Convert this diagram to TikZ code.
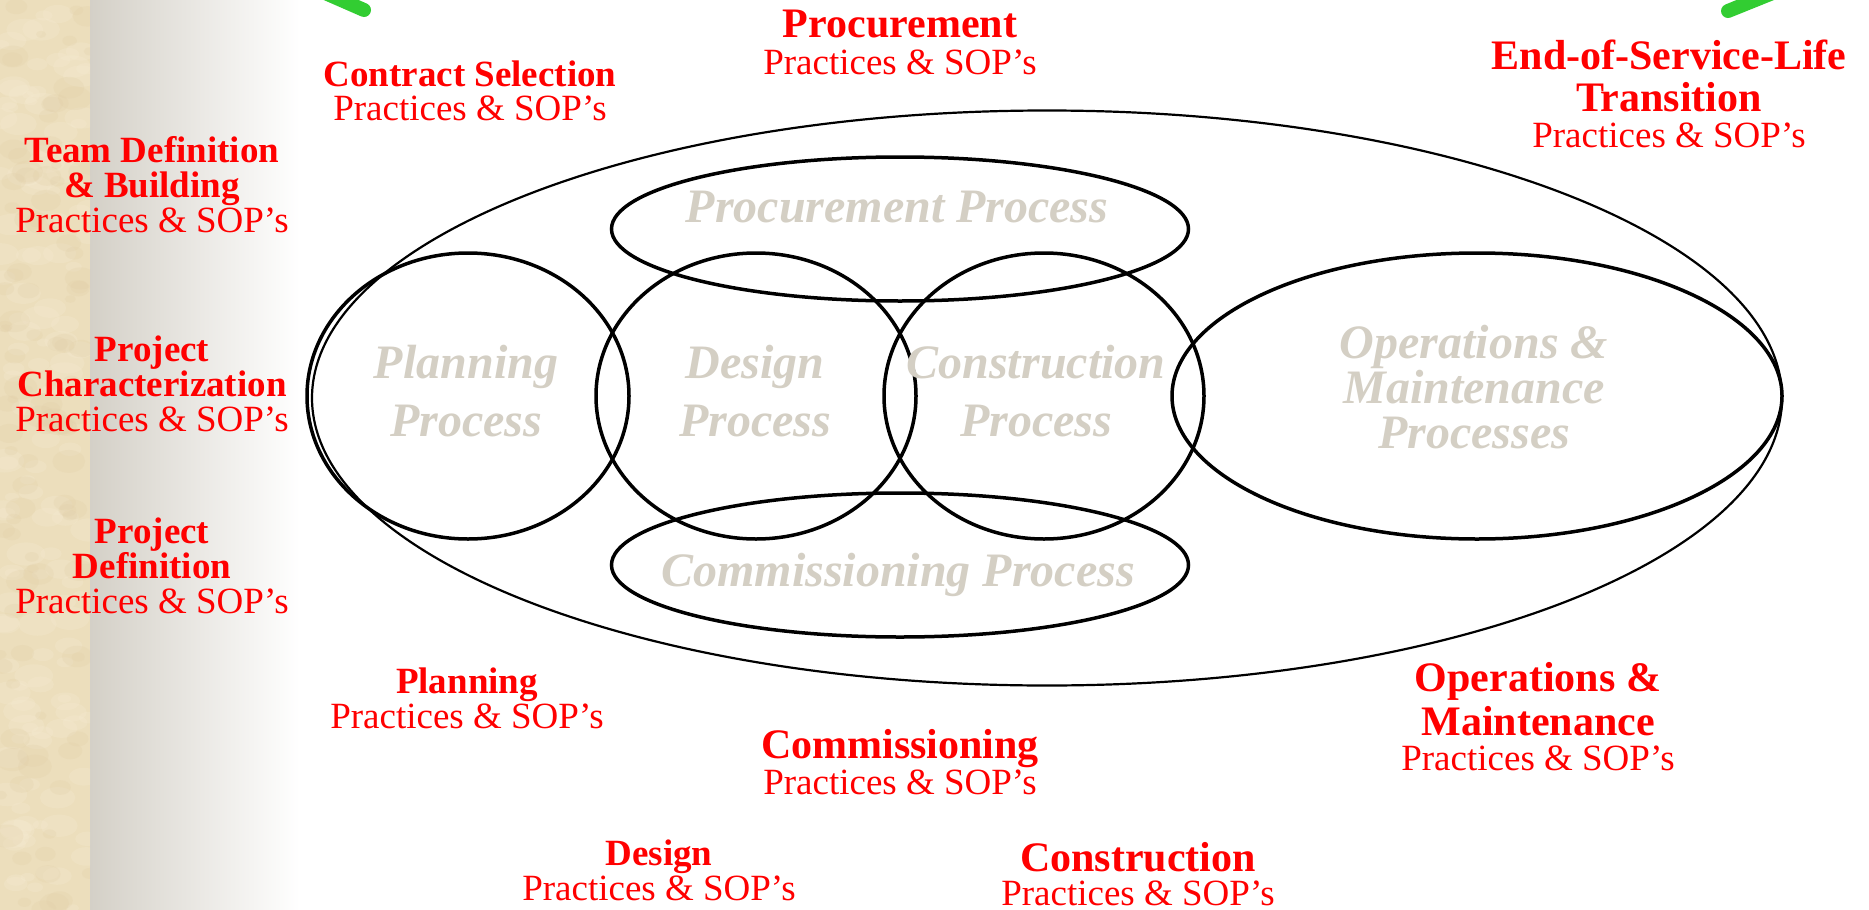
\documentclass[tikz,border=0pt]{standalone}
\usepackage{fontspec}
\setmainfont{Liberation Serif}
\usetikzlibrary{shapes.geometric}
\definecolor{procgray}{RGB}{212,207,196}
\definecolor{parch}{RGB}{236,222,188}
\definecolor{parchlight}{RGB}{245,234,208}
\definecolor{parchdark}{RGB}{224,205,165}
\definecolor{fadegray}{RGB}{212,208,199}
\definecolor{arrowgreen}{RGB}{50,205,50}
\begin{document}
\begin{tikzpicture}[x=1pt,y=-1pt,
  procshape/.style={draw=black, line width=3.5pt, ellipse, inner sep=0pt},
  outershape/.style={draw=black, line width=2.2pt, ellipse, inner sep=0pt},
  plabel/.style={text=procgray, align=center, anchor=base, inner sep=0pt,
    font=\fontsize{48}{58}\selectfont\bfseries\itshape},
  smalltitle/.style={text=red, align=center, anchor=base, inner sep=0pt,
    font=\fontsize{37}{35}\selectfont},
  bigtitle/.style={text=red, align=center, anchor=base, inner sep=0pt,
    font=\fontsize{37}{36}\selectfont},
  greenstroke/.style={draw=arrowgreen, line width=14pt, line cap=round}]
\useasboundingbox (0,0) rectangle (1869,910);
% background
\fill[white] (0,0) rectangle (1869,910);
\shade[left color=fadegray, right color=white] (90,0) rectangle (300,910);
\begin{scope}
  \clip (0,0) rectangle (90,910);
  \fill[parch] (0,0) rectangle (90,910);
  \pgfmathsetseed{7}
  \foreach \i in {1,...,140} {
    \pgfmathsetmacro{\px}{rnd*90}
    \pgfmathsetmacro{\py}{rnd*910}
    \pgfmathsetmacro{\pr}{6+rnd*14}
    \fill[parchlight, opacity=0.3] (\px,\py) ellipse ({\pr} and {0.6*\pr});
  }
  \foreach \i in {1,...,110} {
    \pgfmathsetmacro{\px}{rnd*90}
    \pgfmathsetmacro{\py}{rnd*910}
    \pgfmathsetmacro{\pr}{5+rnd*12}
    \fill[parchdark, opacity=0.22] (\px,\py) ellipse ({\pr} and {0.7*\pr});
  }
\end{scope}
% green arrow ends at the top
\begin{scope}
  \clip (0,0) rectangle (1869,910);
  \coordinate (gla) at (300,-18);
  \coordinate (glb) at (364,10);
  \coordinate (gra) at (1795,-16);
  \coordinate (grb) at (1728,11);
  \draw[greenstroke] (gla) -- (glb);
  \draw[greenstroke] (gra) -- (grb);
\end{scope}
% outer ellipse
\node[outershape, minimum width=1470pt, minimum height=575pt] (outer) at (1047,398) {};
% process shapes
\node[procshape, minimum width=322pt, minimum height=286pt] (plan) at (468,396) {};
\node[procshape, minimum width=320pt, minimum height=286pt] (design) at (756,396) {};
\node[procshape, minimum width=320pt, minimum height=286pt] (constr) at (1044,396) {};
\node[procshape, minimum width=610pt, minimum height=286pt] (om) at (1477,396) {};
\node[procshape, minimum width=577pt, minimum height=144pt] (proc) at (900,229) {};
\node[procshape, minimum width=577pt, minimum height=144pt] (comm) at (900,565) {};
% process labels (anchor base = last line baseline)
\node[plabel] (procl) at (897,222) {Procurement Process};
\node[plabel] (planl) at (466,436) {Planning\\Process};
\node[plabel] (designl) at (755,436) {Design\\Process};
\node[plabel] (constrl) at (1036,436) {Construction\\Process};
\node[plabel, font=\fontsize{48}{45}\selectfont\bfseries\itshape] (oml) at (1474,448) {Operations \&\\Maintenance\\Processes};
\node[plabel] (comml) at (898,586) {Commissioning Process};
% practice labels
\node[bigtitle, font=\fontsize{37}{37}\selectfont] (tproc) at (900,74) {{\fontsize{42}{37}\selectfont\bfseries Procurement}\\Practices \& SOP’s};
\node[smalltitle, font=\fontsize{37}{34}\selectfont] (tcontract) at (470,120) {\textbf{Contract Selection}\\Practices \& SOP’s};
\node[bigtitle] (teosl) at (1669,147) {{\fontsize{42}{36}\selectfont\bfseries End-of-Service-Life}\\[6pt]{\fontsize{42}{36}\selectfont\bfseries Transition}\\Practices \& SOP’s};
\node[smalltitle] (tteam) at (152,232) {\textbf{Team Definition}\\\textbf{\& Building}\\Practices \& SOP’s};
\node[smalltitle] (tchar) at (152,431) {\textbf{Project}\\\textbf{Characterization}\\Practices \& SOP’s};
\node[smalltitle] (tdef) at (152,613) {\textbf{Project}\\\textbf{Definition}\\Practices \& SOP’s};
\node[smalltitle] (tplan) at (467,728) {\textbf{Planning}\\Practices \& SOP’s};
\node[bigtitle] (tcomm) at (900,794) {{\fontsize{42}{36}\selectfont\bfseries Commissioning}\\Practices \& SOP’s};
\node[bigtitle, font=\fontsize{37}{35}\selectfont] (tom) at (1538,770) {{\fontsize{42}{35}\selectfont\bfseries Operations \&}\\[4pt]{\fontsize{42}{35}\selectfont\bfseries Maintenance}\\Practices \& SOP’s};
\node[smalltitle] (tdesign) at (659,900) {\textbf{Design}\\Practices \& SOP’s};
\node[bigtitle, font=\fontsize{37}{34}\selectfont] (tconstr) at (1138,905) {{\fontsize{42}{34}\selectfont\bfseries Construction}\\Practices \& SOP’s};
\end{tikzpicture}
\end{document}
